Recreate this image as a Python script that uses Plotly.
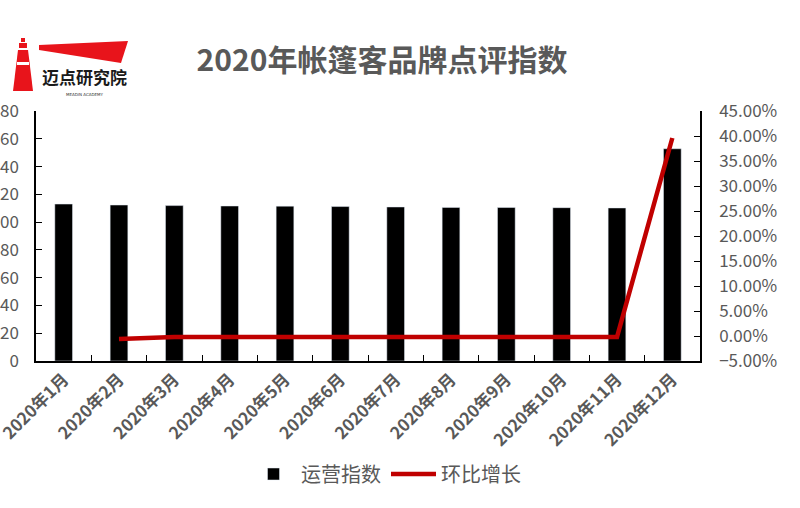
import plotly.graph_objects as go

months = ["2020年1月", "2020年2月", "2020年3月", "2020年4月", "2020年5月", "2020年6月",
          "2020年7月", "2020年8月", "2020年9月", "2020年10月", "2020年11月", "2020年12月"]
index_values = [113.0, 112.3, 111.9, 111.6, 111.5, 111.2, 110.9, 110.6, 110.5, 110.4, 110.2, 152.8]
mom_growth = [None, -0.006, -0.002, -0.002, -0.001, -0.002, -0.002, -0.002, -0.001, -0.001, -0.002, 0.396]

FONT = "Noto Sans CJK SC"
GRAY = "#595959"
RED = "#C00000"

W, H = 800, 508
L, R, T, B = 36, 100, 111, 147
PW, PH = W - L - R, H - T - B


def px(x, y):
    return (x - L) / PW, (H - B - y) / PH


def path(points):
    s = ""
    for i, (x, y) in enumerate(points):
        xp, yp = px(x, y)
        s += ("M" if i == 0 else "L") + f"{xp:.4f},{yp:.4f} "
    return s + "Z"


fig = go.Figure()
fig.add_trace(go.Bar(x=months, y=index_values, name="运营指数", marker_color="#000000",
                     yaxis="y"))
fig.add_trace(go.Scatter(x=months, y=mom_growth, name="环比增长", mode="lines",
                         line=dict(color=RED, width=4.5), yaxis="y2", connectgaps=False))

shapes = [
    dict(type="path", path=path([(39, 45), (128, 41), (121, 63), (39, 50)]),
         xref="paper", yref="paper", fillcolor="#E8141B", line_width=0),
    dict(type="path", path=path([(21, 38), (25, 38), (25, 42), (21, 42)]),
         xref="paper", yref="paper", fillcolor="#E8141B", line_width=0),
    dict(type="path", path=path([(19, 43), (27, 43), (27, 48), (19, 48)]),
         xref="paper", yref="paper", fillcolor="#E8141B", line_width=0),
    dict(type="path", path=path([(18, 50), (28, 50), (33, 91), (13, 91)]),
         xref="paper", yref="paper", fillcolor="#E8141B", line_width=0),
    dict(type="path", path=path([(17, 62), (29, 62), (29, 65), (17, 65)]),
         xref="paper", yref="paper", fillcolor="#FFFFFF", line_width=0),
]

ax, ay = px(84, 76)
bx, by = px(84, 91)
annotations = [
    dict(text="<b>迈点研究院</b>", x=ax, y=ay, xref="paper", yref="paper", showarrow=False,
         font=dict(family=FONT, size=17, color="#1a1a1a"), xanchor="center", yanchor="middle",
         borderpad=0),
    dict(text="MEADIN ACADEMY", x=bx, y=by, xref="paper", yref="paper", showarrow=False,
         font=dict(family="DejaVu Sans", size=4, color="#333333"), xanchor="center", yanchor="top",
         borderpad=0),
]

fig.update_layout(
    width=W, height=H,
    margin=dict(l=L, r=R, t=T, b=B, autoexpand=False),
    paper_bgcolor="white", plot_bgcolor="white",
    font=dict(family=FONT, color=GRAY),
    title=dict(text="2020年帐篷客品牌点评指数", x=382 / W, y=1 - 60 / H, xref="container", yref="container",
               xanchor="center", yanchor="middle",
               font=dict(family=FONT, size=30, color=GRAY, weight="bold")),
    bargap=0.68,
    showlegend=True,
    legend=dict(orientation="h", x=386 / W, y=1 - 474 / H, xref="container", yref="container",
                xanchor="center", yanchor="middle",
                font=dict(family=FONT, size=20, color=GRAY), itemwidth=45),
    xaxis=dict(type="category", tickangle=-45, showline=True, linecolor="#000000", linewidth=1.5,
               ticks="inside", tickson="boundaries", ticklen=6, tickcolor="#000000", automargin=False,
               tickfont=dict(family=FONT, size=17, color=GRAY, weight="bold"),
               showgrid=False, zeroline=False),
    yaxis=dict(range=[0, 180], dtick=20, showline=True, linecolor="#000000", linewidth=1.5,
               ticks="inside", ticklen=6, tickcolor="#000000", showgrid=False, zeroline=False,
               automargin=False, ticklabelstandoff=12,
               tickfont=dict(family=FONT, size=17, color=GRAY)),
    yaxis2=dict(range=[-0.05, 0.45], dtick=0.05, tickformat=".2%", overlaying="y", side="right",
                showline=True, linecolor="#000000", linewidth=1.5, ticks="inside", ticklen=6,
                tickcolor="#000000", showgrid=False, zeroline=False, automargin=False,
                ticklabelstandoff=14,
                tickfont=dict(family=FONT, size=17, color=GRAY)),
    shapes=shapes,
    annotations=annotations,
)

fig.write_html("out.html", config={"displayModeBar": False},
               post_script="document.body.style.margin='0';")
